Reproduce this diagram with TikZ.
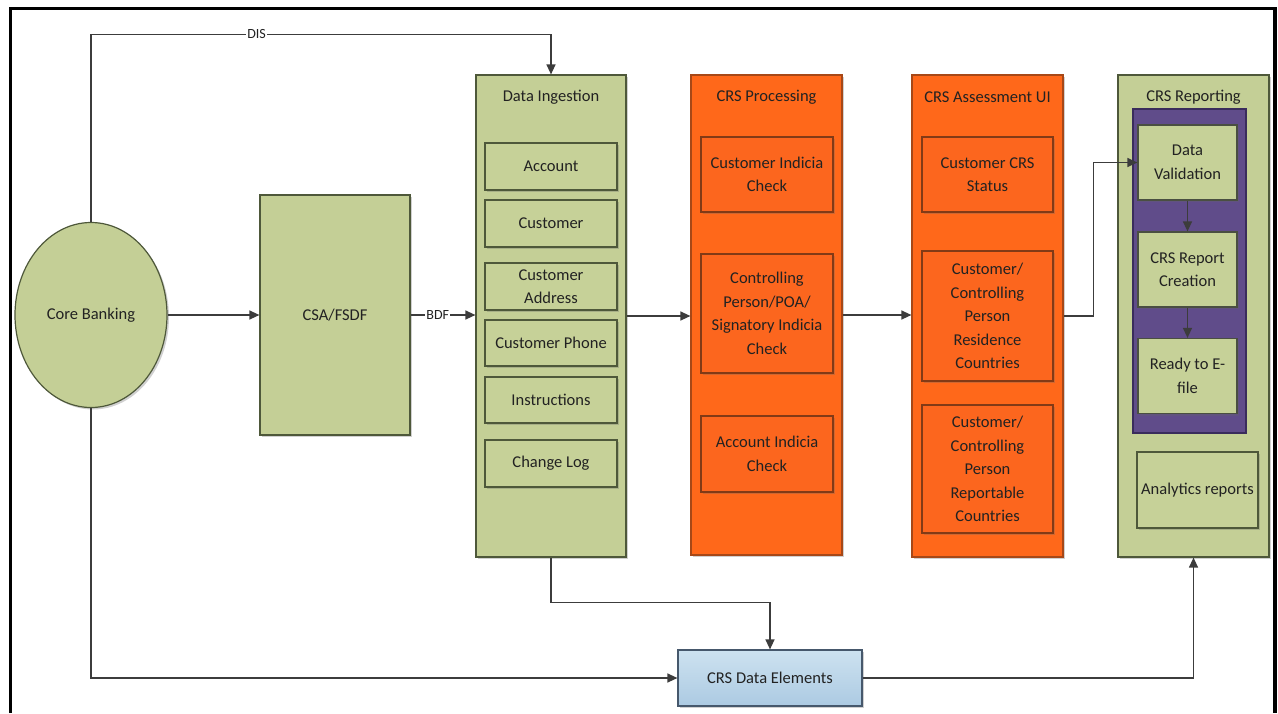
\documentclass[tikz,border=0pt]{standalone}
\usepackage{fontspec}
\setmainfont{Carlito}
\usetikzlibrary{arrows.meta,shapes.geometric,shadows}
\definecolor{grnfill}{RGB}{196,207,150}
\definecolor{grnin}{RGB}{198,209,152}
\definecolor{grnline}{RGB}{78,88,58}
\definecolor{orgfill}{RGB}{255,104,26}
\definecolor{orgin}{RGB}{252,102,30}
\definecolor{orgline}{RGB}{130,58,22}
\definecolor{purfill}{RGB}{96,76,138}
\definecolor{purline}{RGB}{58,44,92}
\definecolor{bluetop}{RGB}{205,226,240}
\definecolor{bluebot}{RGB}{172,202,226}
\definecolor{blueline}{RGB}{70,88,108}
\definecolor{txt}{RGB}{34,34,34}
\definecolor{conn}{RGB}{60,60,60}
\tikzset{
  shad/.style={drop shadow={shadow xshift=2pt,shadow yshift=-2pt,fill=black!60,opacity=0.3}},
  bigg/.style={draw=grnline,fill=grnfill,line width=1.2pt,inner sep=0pt,shad},
  bigo/.style={draw=orgline!70!orgfill,fill=orgfill,line width=1.2pt,inner sep=0pt,shad},
  ing/.style={draw=grnline,fill=grnin,line width=1.2pt,inner sep=0pt,align=center,minimum width=132pt,shad},
  ino/.style={draw=orgline,fill=orgin,line width=1.2pt,inner sep=0pt,align=center,minimum width=132pt,shad},
  inr/.style={draw=grnline!80!purline,fill=grnin,line width=1.2pt,inner sep=0pt,align=center,minimum width=99pt,minimum height=75pt,shad},
  ttl/.style={inner sep=0pt,text=txt},
  arr/.style={draw=conn,line width=1.3pt,-{Triangle[length=10pt,width=9pt]}},
  lbl/.style={fill=white,inner sep=1pt,text=txt,font=\fontsize{14}{16}\selectfont},
}
\begin{document}
\begin{tikzpicture}[x=1pt,y=-1pt,font=\fontsize{16.5}{23.5}\selectfont,text=txt]
\useasboundingbox (0,0) rectangle (1278,713);
\fill[white] (0,0) rectangle (1278,713);
% frame
\draw[line width=3.4pt,black] (10.7,713) -- (10.7,8.7) -- (1275,8.7) -- (1275,713);

% Core banking
\node[ellipse,draw=grnline,fill=grnfill,line width=1.2pt,minimum width=152pt,minimum height=185pt,inner sep=0pt,shad] (core) at (91,315) {Core Banking};
% CSA/FSDF
\node[bigg,minimum width=150pt,minimum height=240pt] (csa) at (335,315) {CSA/FSDF};

% Data Ingestion
\node[bigg,minimum width=150pt,minimum height=482pt] (di) at (551,316) {};
\node[ttl] (dit) at (551,97) {Data Ingestion};
\node[ing,minimum height=47pt] (acc) at (551,166.5) {Account};
\node[ing,minimum height=47pt] (cus) at (551,223.5) {Customer};
\node[ing,minimum height=47pt] (addr) at (551,286.5) {Customer\\[-1pt]Address};
\node[ing,minimum height=46pt] (phone) at (551,343) {Customer Phone};
\node[ing,minimum height=46pt] (instr) at (551,400) {Instructions};
\node[ing,minimum height=47pt] (chlog) at (551,463.5) {Change Log};

% CRS Processing
\node[bigo,minimum width=151pt,minimum height=480pt] (proc) at (766.5,315) {};
\node[ttl] (proct) at (766.5,97) {CRS Processing};
\node[ino,minimum height=75pt] (cic) at (767,174.5) {Customer Indicia\\Check};
\node[ino,minimum height=119pt] (cpc) at (767,313.5) {Controlling\\Person/POA/\\Signatory Indicia\\Check};
\node[ino,minimum height=76pt] (aic) at (767,454) {Account Indicia\\Check};

% CRS Assessment UI
\node[bigo,minimum width=151pt,minimum height=482pt] (asm) at (987.5,316) {};
\node[ttl] (asmt) at (987.5,97) {CRS Assessment UI};
\node[ino,minimum width=131pt,minimum height=75pt] (ccs) at (987.5,174.5) {Customer CRS\\Status};
\node[ino,minimum width=131pt,minimum height=130pt] (res) at (987.5,316) {Customer/\\Controlling\\Person\\Residence\\Countries};
\node[ino,minimum width=131pt,minimum height=128pt] (rpc) at (987.5,469) {Customer/\\Controlling\\Person\\Reportable\\Countries};

% CRS Reporting
\node[bigg,minimum width=151pt,minimum height=482pt] (rep) at (1193.5,316) {};
\node[ttl] (rept) at (1193.5,97) {CRS Reporting};
\node[draw=purline,fill=purfill,line width=2pt,minimum width=113pt,minimum height=324pt,inner sep=0pt] (pur) at (1189.5,271) {};
\node[inr] (dv) at (1187.5,162.5) {Data\\Validation};
\node[inr] (crc) at (1187.5,269.5) {CRS Report\\Creation};
\node[inr] (ref) at (1187.5,376) {Ready to E-\\file};
\node[ing,minimum width=121pt,minimum height=76pt] (ana) at (1197.5,490) {Analytics reports};

% CRS Data Elements
\node[draw=blueline,top color=bluetop,bottom color=bluebot,line width=1.2pt,minimum width=184pt,minimum height=56pt,inner sep=0pt,shad] (cde) at (770,678) {CRS Data Elements};

% connectors
\draw[arr] (core.north) |- node[lbl,pos=0.68] {DIS} ([yshift=40pt]di.north) -- (di.north);
\draw[arr] (core.east) -- (csa.west);
\draw[arr] (csa.east) -- node[lbl,pos=0.42] {BDF} (csa.east -| di.west);
\draw[arr] (di.east) -- (di.east -| proc.west);
\draw[arr] (proc.east) -- (proc.east -| asm.west);
\draw[arr] (asm.east) -- ++(30,0) |- (dv.west);
\draw[arr] (dv.south) -- (crc.north);
\draw[arr] (crc.south) -- (ref.north);
\draw[arr] (core.south) |- (cde.west);
\draw[arr] (di.south) -- ++(0,45) -| (cde.north);
\draw[arr] (cde.east) -| (rep.south);
\end{tikzpicture}
\end{document}
